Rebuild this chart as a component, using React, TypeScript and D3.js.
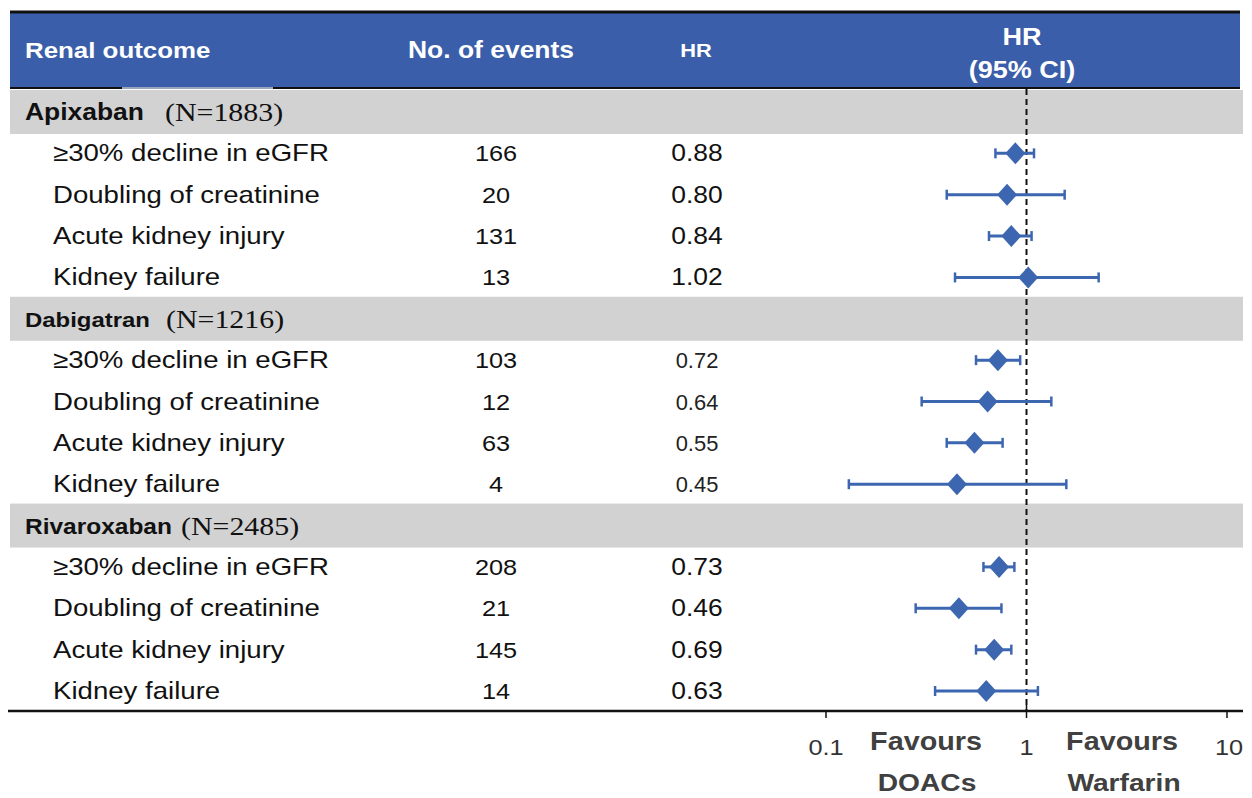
import * as d3 from "d3";
import React, { useEffect, useRef } from "react";

const groups = ["Apixaban", "Dabigatran", "Rivaroxaban"];
const groupN = ["(N=1883)", "(N=1216)", "(N=2485)"];
const outcomes = ["≥30% decline in eGFR", "Doubling of creatinine", "Acute kidney injury", "Kidney failure"];
const events = [
  [166, 20, 131, 13],
  [103, 12, 63, 4],
  [208, 21, 145, 14],
];
const hr = [
  [0.88, 0.8, 0.84, 1.02],
  [0.72, 0.64, 0.55, 0.45],
  [0.73, 0.46, 0.69, 0.63],
];
const lower = [
  [0.7, 0.4, 0.65, 0.44],
  [0.56, 0.3, 0.4, 0.13],
  [0.61, 0.28, 0.56, 0.35],
];
const upper = [
  [1.09, 1.55, 1.06, 2.29],
  [0.93, 1.33, 0.76, 1.58],
  [0.87, 0.75, 0.84, 1.14],
];
const xTicks = [0.1, 1, 10];
const xTickLabels = ["0.1", "1", "10"];

export default function App() {
  const ref = useRef<SVGSVGElement>(null);

  useEffect(() => {
    const width = 1252;
    const height = 798;
    const svg = d3.select(ref.current);
    svg.selectAll("*").remove();

    const blue = "#3a5ea9";
    const marker = "#3d66b0";
    const sans = "'Liberation Sans', Arial, sans-serif";
    const serif = "'Liberation Serif', 'Times New Roman', serif";
    const sx = 1.15; // the figure is a little stretched horizontally

    // log scale for the HR, and a linear row index for the y position
    const x = d3.scaleLog().domain([0.1, 10]).range([826, 1227]);
    const y = d3.scaleLinear().domain([0, 14]).range([112, 691]);
    const axisY = 711;

    const text = (
      g: any,
      s: string,
      tx: number,
      ty: number,
      opts: { size: number; anchor?: string; weight?: string; fill?: string; family?: string; sx?: number }
    ) =>
      g
        .append("text")
        .attr("transform", `translate(${tx},${ty}) scale(${opts.sx || sx},1)`)
        .attr("text-anchor", opts.anchor || "start")
        .attr("font-family", opts.family || sans)
        .attr("font-size", opts.size)
        .attr("font-weight", opts.weight || "normal")
        .attr("fill", opts.fill || "#111")
        .text(s);

    // header
    svg.append("rect").attr("x", 10).attr("y", 12).attr("width", 1230).attr("height", 76).attr("fill", blue);
    svg.append("line").attr("x1", 10).attr("x2", 1240).attr("y1", 12).attr("y2", 12).attr("stroke", "#111").attr("stroke-width", 3);
    svg.append("line").attr("x1", 10).attr("x2", 1240).attr("y1", 88).attr("y2", 88).attr("stroke", "#111").attr("stroke-width", 2);
    svg.append("line").attr("x1", 122).attr("x2", 273).attr("y1", 88).attr("y2", 88).attr("stroke", "#9aa6bf").attr("stroke-width", 2);

    const head = svg.append("g");
    text(head, "Renal outcome", 25, 58, { size: 22.5, weight: "bold", fill: "#fff" });
    text(head, "No. of events", 491, 58, { size: 23, weight: "bold", fill: "#fff", anchor: "middle" });
    text(head, "HR", 696, 57, { size: 19, weight: "bold", fill: "#fff", anchor: "middle" });
    text(head, "HR", 1022, 45, { size: 23.5, weight: "bold", fill: "#fff", anchor: "middle" });
    text(head, "(95% CI)", 1022, 78, { size: 23.5, weight: "bold", fill: "#fff", anchor: "middle" });

    // group bands
    const bandIdx = groups.map((_, gi) => gi * 5);
    svg
      .append("g")
      .selectAll("rect")
      .data(bandIdx)
      .join("rect")
      .attr("x", 10)
      .attr("y", (i) => y(i) - 22)
      .attr("width", 1233)
      .attr("height", 44)
      .attr("fill", "#d2d2d2");

    const labels = svg.append("g");
    const nX = [165, 166, 181];
    const gSize = [23, 20.8, 21.3];
    groups.forEach((name, gi) => {
      const yy = y(bandIdx[gi]) + 8;
      text(labels, name, 25, yy, { size: gSize[gi], weight: "bold" });
      text(labels, groupN[gi], nX[gi], yy + 1, { size: 26, family: serif, fill: "#111" });
      outcomes.forEach((o, oi) => {
        const ry = y(bandIdx[gi] + oi + 1) + 8;
        text(labels, o, 53, ry, { size: 24 });
        text(labels, String(events[gi][oi]), 496, ry, { size: 22, anchor: "middle" });
        text(labels, hr[gi][oi].toFixed(2), 697, ry, {
          size: gi === 1 ? 21.5 : 23,
          sx: gi === 1 ? 1.02 : sx,
          anchor: "middle",
          fill: gi === 1 ? "#222" : "#111",
        });
      });
    });

    // reference line at HR = 1
    svg
      .append("line")
      .attr("x1", x(1))
      .attr("x2", x(1))
      .attr("y1", 89)
      .attr("y2", axisY)
      .attr("stroke", "#111")
      .attr("stroke-width", 2)
      .attr("stroke-dasharray", "6,4");

    // CI lines, caps and diamonds
    const rows = groups.flatMap((_, gi) =>
      outcomes.map((_, oi) => ({
        i: bandIdx[gi] + oi + 1,
        hr: hr[gi][oi],
        lo: lower[gi][oi],
        hi: upper[gi][oi],
      }))
    );
    const plot = svg.append("g");
    plot
      .selectAll("line.ci")
      .data(rows)
      .join("line")
      .attr("class", "ci")
      .attr("x1", (d) => x(d.lo))
      .attr("x2", (d) => x(d.hi))
      .attr("y1", (d) => y(d.i))
      .attr("y2", (d) => y(d.i))
      .attr("stroke", marker)
      .attr("stroke-width", 3);
    ["lo", "hi"].forEach((k) => {
      plot
        .selectAll(`line.cap-${k}`)
        .data(rows)
        .join("line")
        .attr("class", `cap-${k}`)
        .attr("x1", (d: any) => x(d[k]))
        .attr("x2", (d: any) => x(d[k]))
        .attr("y1", (d) => y(d.i) - 5)
        .attr("y2", (d) => y(d.i) + 5)
        .attr("stroke", marker)
        .attr("stroke-width", 2.5);
    });
    plot
      .selectAll("path")
      .data(rows)
      .join("path")
      .attr("d", (d) => {
        const cx = x(d.hr);
        const cy = y(d.i);
        return `M${cx - 10},${cy}L${cx},${cy - 11}L${cx + 10},${cy}L${cx},${cy + 11}Z`;
      })
      .attr("fill", marker);

    // bottom axis
    svg.append("line").attr("x1", 8).attr("x2", 1243).attr("y1", axisY).attr("y2", axisY).attr("stroke", "#111").attr("stroke-width", 2.5);
    svg
      .append("g")
      .selectAll("line")
      .data(xTicks)
      .join("line")
      .attr("x1", (d) => x(d))
      .attr("x2", (d) => x(d))
      .attr("y1", (d) => (d === 1 ? axisY - 6 : axisY))
      .attr("y2", axisY + 7)
      .attr("stroke", "#111")
      .attr("stroke-width", 1.5);

    const axisText = svg.append("g");
    xTicks.forEach((t, i) => {
      text(axisText, xTickLabels[i], x(t) + (i === 2 ? 2 : 0), 755, { size: 22, anchor: "middle", fill: "#333" });
    });
    text(axisText, "Favours", 926, 750, { size: 25, weight: "bold", anchor: "middle", fill: "#404040" });
    text(axisText, "DOACs", 927, 791, { size: 24.5, weight: "bold", anchor: "middle", fill: "#404040" });
    text(axisText, "Favours", 1122, 750, { size: 25, weight: "bold", anchor: "middle", fill: "#404040" });
    text(axisText, "Warfarin", 1124, 791, { size: 24.5, weight: "bold", anchor: "middle", fill: "#404040" });

    svg.attr("viewBox", [0, 0, width, height]);
  }, []);

  return (
    <svg
      ref={ref}
      width={1252}
      height={798}
      style={{ position: "absolute", left: 0, top: 0, background: "#fff" }}
    ></svg>
  );
}
